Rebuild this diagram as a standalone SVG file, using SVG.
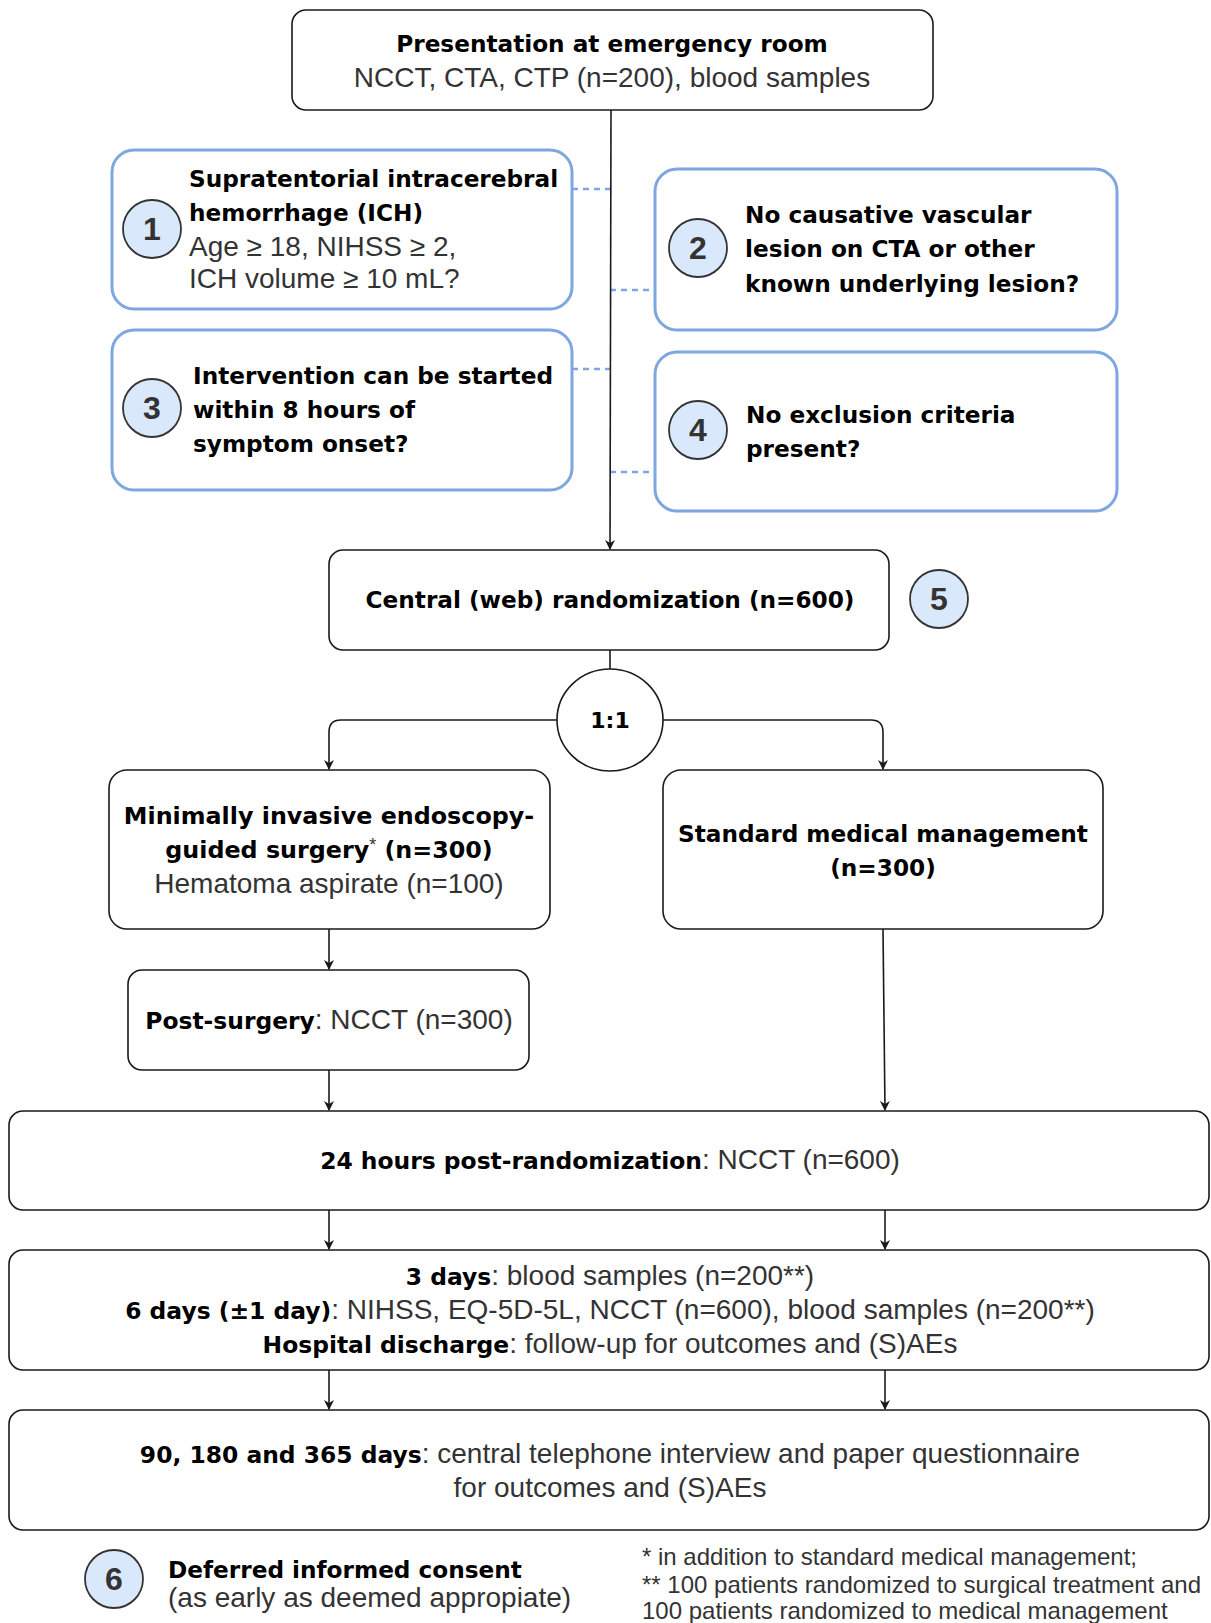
<svg xmlns="http://www.w3.org/2000/svg" width="1211" height="1623" viewBox="0 0 1211 1623">
<style>
.box{fill:#fff;stroke:#1a1a1a;stroke-width:1.6}
.bbox{fill:#fff;stroke:#7EA6E0;stroke-width:3}
.num{fill:#dae8fc;stroke:#333;stroke-width:1.8}
.b{font-family:"DejaVu Sans",Verdana,sans-serif;font-weight:bold;font-size:23.2px;fill:#000}
.r{font-family:"Liberation Sans",Arial,sans-serif;font-size:28px;fill:#333}
.fn{font-family:"Liberation Sans",Arial,sans-serif;font-size:24px;fill:#333}
.n{font-family:"Liberation Sans",Arial,sans-serif;font-weight:bold;font-size:32px;fill:#333;text-anchor:middle}
.c{text-anchor:middle}
.bw{font-family:"DejaVu Sans",Verdana,sans-serif;font-weight:bold;font-size:23.4px;fill:#000}
.line{fill:none;stroke:#1a1a1a;stroke-width:1.6}
.dash{fill:none;stroke:#7EA6E0;stroke-width:2.5;stroke-dasharray:6 5}
</style>
<defs>
<marker id="arr" viewBox="0 0 10 10" refX="9" refY="5" markerWidth="10" markerHeight="10" markerUnits="userSpaceOnUse" orient="auto">
<path d="M0,0 L10,5 L0,10 L3,5 Z" fill="#1a1a1a"/>
</marker>
</defs>
<g id="connectors">
<line class="dash" x1="572" y1="189" x2="610" y2="189"/>
<line class="dash" x1="610" y1="290" x2="655" y2="290"/>
<line class="dash" x1="572" y1="369" x2="610" y2="369"/>
<line class="dash" x1="610" y1="472" x2="655" y2="472"/>
<path class="line" d="M611,110 L610,549" marker-end="url(#arr)"/>
<path class="line" d="M610,650 L610,669"/>
<path class="line" d="M557,720 L341,720 Q329,720 329,732 L329,769" marker-end="url(#arr)"/>
<path class="line" d="M663,720 L871,720 Q883,720 883,732 L883,769" marker-end="url(#arr)"/>
<path class="line" d="M329,929 L329,969" marker-end="url(#arr)"/>
<path class="line" d="M329,1070 L329,1110" marker-end="url(#arr)"/>
<path class="line" d="M883,929 L885,1110" marker-end="url(#arr)"/>
<path class="line" d="M329,1210 L329,1249" marker-end="url(#arr)"/>
<path class="line" d="M885,1210 L885,1249" marker-end="url(#arr)"/>
<path class="line" d="M329,1370 L329,1409" marker-end="url(#arr)"/>
<path class="line" d="M885,1370 L885,1409" marker-end="url(#arr)"/>
</g>
<g id="presentation">
<rect class="box" x="292" y="10" width="641" height="100" rx="14"/>
<text class="b c" x="612" y="52">Presentation at emergency room</text>
<text class="r c" x="612" y="87">NCCT, CTA, CTP (n=200), blood samples</text>
</g>
<g id="criterion1">
<rect class="bbox" x="112" y="150" width="460" height="159" rx="22"/>
<circle class="num" cx="152" cy="229" r="29"/>
<text class="n" x="152" y="240">1</text>
<text class="b" x="189" y="187">Supratentorial intracerebral</text>
<text class="b" x="189" y="221">hemorrhage (ICH)</text>
<text class="r" x="189" y="256">Age ≥ 18, NIHSS ≥ 2,</text>
<text class="r" x="189" y="288">ICH volume ≥ 10 mL?</text>
</g>
<g id="criterion2">
<rect class="bbox" x="655" y="169" width="462" height="161" rx="22"/>
<circle class="num" cx="698" cy="248" r="29"/>
<text class="n" x="698" y="259">2</text>
<text class="b" x="745" y="223">No causative vascular</text>
<text class="b" x="745" y="257">lesion on CTA or other</text>
<text class="b" x="745" y="292">known underlying lesion?</text>
</g>
<g id="criterion3">
<rect class="bbox" x="112" y="330" width="460" height="160" rx="22"/>
<circle class="num" cx="152" cy="408" r="29"/>
<text class="n" x="152" y="419">3</text>
<text class="b" x="193" y="384">Intervention can be started</text>
<text class="b" x="193" y="418">within 8 hours of</text>
<text class="b" x="193" y="452">symptom onset?</text>
</g>
<g id="criterion4">
<rect class="bbox" x="655" y="352" width="462" height="159" rx="22"/>
<circle class="num" cx="698" cy="430" r="29"/>
<text class="n" x="698" y="441">4</text>
<text class="b" x="746" y="423">No exclusion criteria</text>
<text class="b" x="746" y="457">present?</text>
</g>
<g id="randomization">
<rect class="box" x="329" y="550" width="560" height="100" rx="14"/>
<text class="b c" x="610" y="608">Central (web) randomization (n=600)</text>
</g>
<g id="step5">
<circle class="num" cx="939" cy="599" r="29"/>
<text class="n" x="939" y="610">5</text>
</g>
<g id="ratio">
<ellipse class="box" cx="610" cy="720" rx="53" ry="51"/>
<text class="b c" x="610" y="728" style="font-size:22px">1:1</text>
</g>
<g id="surgery">
<rect class="box" x="109" y="770" width="441" height="159" rx="18"/>
<text class="b c" x="329" y="824" style="font-size:23.8px">Minimally invasive endoscopy-</text>
<text class="b c" x="329" y="858" style="font-size:23.8px">guided surgery<tspan style="font-weight:normal;font-family:'Liberation Sans',Arial,sans-serif;font-size:18px;fill:#333" dy="-7">*</tspan><tspan dy="7"> (n=300)</tspan></text>
<text class="r c" x="329" y="893">Hematoma aspirate (n=100)</text>
</g>
<g id="medical">
<rect class="box" x="663" y="770" width="440" height="159" rx="18"/>
<text class="b c" x="883" y="842">Standard medical management</text>
<text class="b c" x="883" y="876">(n=300)</text>
</g>
<g id="postsurgery">
<rect class="box" x="128" y="970" width="401" height="100" rx="14"/>
<text class="r c" x="329" y="1029"><tspan class="bw">Post-surgery</tspan>: NCCT (n=300)</text>
</g>
<g id="h24">
<rect class="box" x="9" y="1111" width="1200" height="99" rx="14"/>
<text class="r c" x="610" y="1169"><tspan class="bw">24 hours post-randomization</tspan>: NCCT (n=600)</text>
</g>
<g id="days">
<rect class="box" x="9" y="1250" width="1200" height="120" rx="14"/>
<text class="r c" x="610" y="1285"><tspan class="bw">3 days</tspan>: blood samples (n=200**)</text>
<text class="r c" x="610" y="1319"><tspan class="bw">6 days (±1 day)</tspan>: NIHSS, EQ-5D-5L, NCCT (n=600), blood samples (n=200**)</text>
<text class="r c" x="610" y="1353"><tspan class="bw">Hospital discharge</tspan>: follow-up for outcomes and (S)AEs</text>
</g>
<g id="followup">
<rect class="box" x="9" y="1410" width="1200" height="120" rx="14"/>
<text class="r c" x="610" y="1463"><tspan class="bw">90, 180 and 365 days</tspan>: central telephone interview and paper questionnaire</text>
<text class="r c" x="610" y="1497">for outcomes and (S)AEs</text>
</g>
<g id="consent">
<circle class="num" cx="114" cy="1579" r="29"/>
<text class="n" x="114" y="1590">6</text>
<text class="b" x="168" y="1578">Deferred informed consent</text>
<text class="r" x="168" y="1607">(as early as deemed appropiate)</text>
</g>
<g id="footnotes">
<text class="fn" x="642" y="1565">* in addition to standard medical management;</text>
<text class="fn" x="642" y="1593">** 100 patients randomized to surgical treatment and</text>
<text class="fn" x="642" y="1619">100 patients randomized to medical management</text>
</g>
</svg>
